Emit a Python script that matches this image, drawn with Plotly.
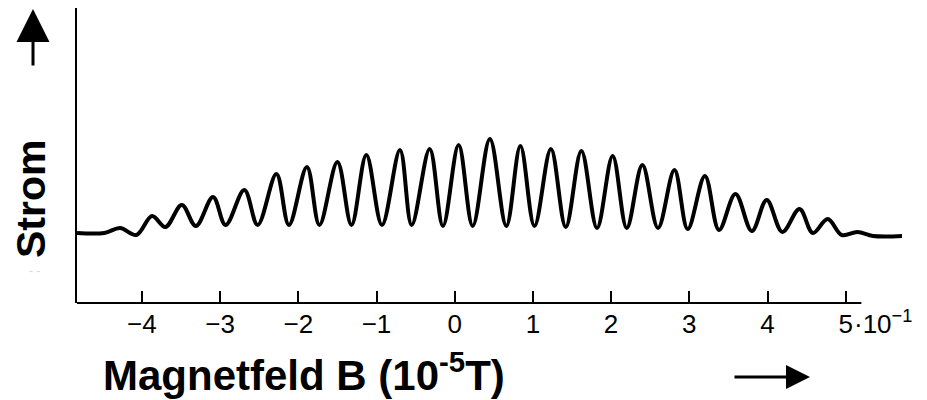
import plotly.graph_objects as go

# Magnetic field B (in 10^-5 T, axis scaled by 10^-1) at curve extrema
feld_b = [-4.83, -4.48, -4.28, -4.07, -3.87, -3.70, -3.49, -3.31, -3.09, -2.93,
          -2.69, -2.52, -2.28, -2.12, -1.89, -1.73, -1.50, -1.32, -1.13, -0.93,
          -0.70, -0.55, -0.32, -0.15, 0.05, 0.23, 0.45, 0.66, 0.84, 1.02,
          1.23, 1.42, 1.62, 1.82, 2.02, 2.20, 2.40, 2.60, 2.81, 2.98,
          3.20, 3.38, 3.59, 3.80, 3.99, 4.19, 4.41, 4.58, 4.77, 4.95,
          5.15, 5.35, 5.72]
# Strom (arbitrary units)
strom = [70, 70, 75, 68, 87, 76, 98, 77, 106, 78,
         113, 78, 129, 78, 136, 78, 141, 78, 148, 78,
         153, 78, 154, 77, 158, 77, 164, 77, 157, 77,
         154, 76, 152, 75, 147, 75, 138, 75, 133, 74,
         127, 73, 109, 72, 103, 71, 94, 70, 84, 68,
         71, 67, 67]

tick_vals = [-4, -3, -2, -1, 0, 1, 2, 3, 4, 5]
tick_text = ["\u22124", "\u22123", "\u22122", "\u22121", "0", "1", "2", "3", "4", "5"]

FONT = "Liberation Sans, Arial, sans-serif"

fig = go.Figure()
fig.add_trace(go.Scatter(
    x=feld_b, y=strom, mode="lines",
    line=dict(color="black", width=4, shape="spline", smoothing=1.0),
    hoverinfo="skip", showlegend=False,
))

x_axis_end = 5.2

fig.update_layout(
    width=927, height=400,
    margin=dict(l=77, r=25, t=8, b=97),
    paper_bgcolor="white", plot_bgcolor="white",
    font=dict(family=FONT, color="black"),
    xaxis=dict(
        range=[-4.83, 5.72], showgrid=False, zeroline=False, showline=False,
        tickmode="array", tickvals=tick_vals, ticktext=tick_text,
        ticks="inside", ticklen=12, tickwidth=2, tickcolor="black",
        tickfont=dict(size=26, family=FONT, color="black"),
        ticklabelstandoff=3,
    ),
    yaxis=dict(
        range=[0, 295], showgrid=False, zeroline=False, showline=True,
        linecolor="black", linewidth=2, showticklabels=False, ticks="",
    ),
    shapes=[
        dict(type="line", xref="x", yref="paper", x0=-4.83, x1=x_axis_end, y0=0, y1=0,
             line=dict(color="black", width=2)),
    ],
    annotations=[
        dict(text="\u00b710<sup>\u22121</sup>", x=5, y=0, xref="x", yref="paper",
             xanchor="left", yanchor="top", xshift=6, yshift=-1, showarrow=False,
             font=dict(size=26, family=FONT, color="black")),
        dict(text="<b>Magnetfeld B (10<sup>-5</sup>T)</b>", x=(303.5 - 77) / 825,
             y=(303 - 372) / 295, xref="paper", yref="paper",
             xanchor="center", yanchor="middle", showarrow=False,
             font=dict(size=42, family=FONT, color="black")),
        dict(text="<b>Strom</b>", x=(31 - 77) / 825, y=(303 - 199) / 295,
             xref="paper", yref="paper", textangle=-90,
             xanchor="center", yanchor="middle", showarrow=False,
             font=dict(size=41, family=FONT, color="black")),
        dict(text="- -", x=(27 - 77) / 825, y=(303 - 280) / 295,
             xref="paper", yref="paper", showarrow=False,
             font=dict(size=12, family=FONT, color="#d8d8d8")),
        dict(text="", x=(33 - 77) / 825, y=(303 - 9) / 295, xref="paper", yref="paper",
             ax=0, ay=58, showarrow=True, arrowhead=2, arrowsize=2.2, arrowwidth=3,
             arrowcolor="black"),
        dict(text="", x=(810 - 77) / 825, y=(303 - 377) / 295, xref="paper", yref="paper",
             ax=-77, ay=0, showarrow=True, arrowhead=2, arrowsize=1.6, arrowwidth=3,
             arrowcolor="black"),
    ],
)

fig.write_html("out.html")
